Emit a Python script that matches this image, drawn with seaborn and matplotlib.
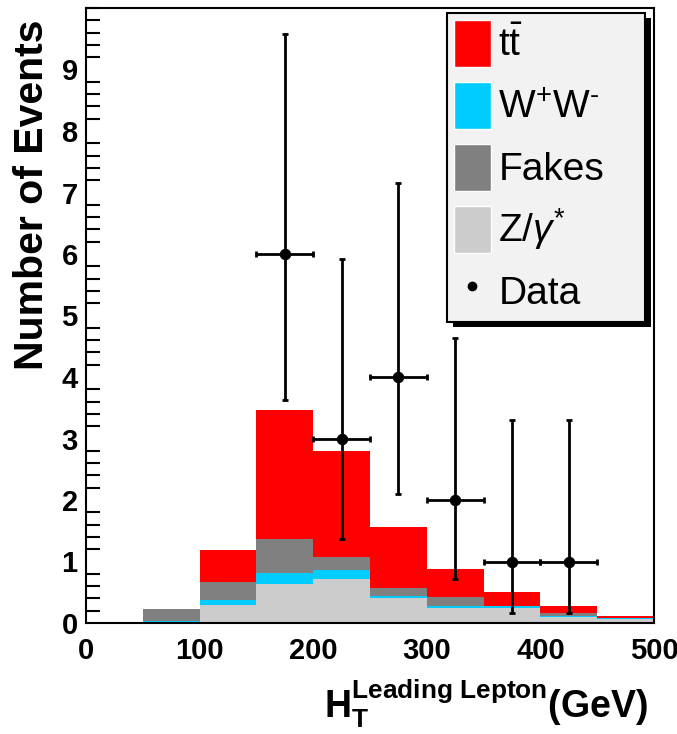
import numpy as np
import pandas as pd
import matplotlib
matplotlib.use("Agg")
import matplotlib.pyplot as plt
import seaborn as sns
from matplotlib.patches import Patch, Rectangle
from matplotlib.lines import Line2D
from matplotlib.transforms import IdentityTransform

# ---------------- data ----------------
bin_edges = [0, 50, 100, 150, 200, 250, 300, 350, 400, 450, 500]
bin_centers = [25, 75, 125, 175, 225, 275, 325, 375, 425, 475]
processes = ["ttbar", "WW", "Fakes", "Zgamma"]
ttbar = [0.0, 0.01, 0.52, 2.10, 1.72, 0.99, 0.45, 0.23, 0.11, 0.04]
ww = [0.0, 0.02, 0.09, 0.19, 0.14, 0.04, 0.03, 0.02, 0.02, 0.02]
fakes = [0.0, 0.18, 0.29, 0.55, 0.21, 0.13, 0.15, 0.01, 0.05, 0.0]
zgamma = [0.0, 0.02, 0.29, 0.63, 0.72, 0.40, 0.25, 0.25, 0.10, 0.06]

data_x = [175, 225, 275, 325, 375, 425]
data_y = [6, 3, 4, 2, 1, 1]
data_err_low = [2.38, 1.63, 1.91, 1.29, 0.83, 0.83]
data_err_high = [3.58, 2.92, 3.16, 2.64, 2.30, 2.30]
data_xerr = [25, 25, 25, 25, 25, 25]

legend_labels = [r"$\mathrm{t\bar{t}}$", r"W$^{+}$W$^{\text{-}}$", "Fakes",
                 r"Z/$\gamma^{*}$", "Data"]
colors = {"ttbar": "#ff0000", "WW": "#00ccff", "Fakes": "#808080", "Zgamma": "#cccccc"}
stack_order = ["ttbar", "Fakes", "WW", "Zgamma"]  # top -> bottom

# ---------------- style ----------------
sns.set_theme(style="white")
plt.rcParams["font.family"] = ["Liberation Sans", "DejaVu Sans"]
plt.rcParams["mathtext.fontset"] = "custom"
plt.rcParams["mathtext.rm"] = "Liberation Sans"
plt.rcParams["mathtext.it"] = "Liberation Sans:italic"
plt.rcParams["mathtext.bf"] = "Liberation Sans:bold"
for k in ["text.color", "axes.labelcolor", "xtick.color", "ytick.color", "axes.edgecolor"]:
    plt.rcParams[k] = "black"

rows = []
for name, vals in zip(processes, [ttbar, ww, fakes, zgamma]):
    for c, v in zip(bin_centers, vals):
        rows.append({"x": c, "w": v, "process": name})
df = pd.DataFrame(rows)

fig = plt.figure(figsize=(6.77, 7.34), dpi=100)
ax = fig.add_axes([86 / 677, 1 - 623 / 734, (654 - 86) / 677, (623 - 8) / 734])

sns.histplot(data=df, x="x", weights="w", hue="process", hue_order=stack_order,
             bins=bin_edges, multiple="stack", element="bars", palette=colors,
             alpha=1, linewidth=0, legend=False, ax=ax, shrink=1.0)

ax.errorbar(data_x, data_y, xerr=data_xerr, yerr=[data_err_low, data_err_high],
            fmt="none", ecolor="black", elinewidth=2, capsize=2.5, capthick=2, zorder=5)
sns.scatterplot(x=data_x, y=data_y, color="black", s=58, edgecolor="black",
                zorder=6, ax=ax, legend=False)

ax.set_xlim(0, 500)
ax.set_ylim(0, 10)
ax.set_xticks([0, 100, 200, 300, 400, 500])
ax.set_yticks(range(0, 10))
ax.set_yticks(np.arange(0, 10.01, 0.2), minor=True)
ax.tick_params(axis="both", which="major", direction="in", labelsize=21, width=1.5, color="black")
ax.tick_params(axis="y", which="major", length=18, pad=6)
ax.tick_params(axis="y", which="minor", direction="in", length=10, width=1.5, left=True)
ax.tick_params(axis="x", which="major", length=13, pad=10)
for lab in ax.get_xticklabels() + ax.get_yticklabels():
    lab.set_fontweight("bold")
for sp in ax.spines.values():
    sp.set_color("black")
    sp.set_linewidth(1.5)

ax.set_ylabel("Number of Events", fontsize=29.5, fontweight="bold", loc="top")
ax.yaxis.set_label_coords(-0.062, 0.981)
ax.set_xlabel(r"$\mathbf{H}_{\mathbf{T}}^{\mathbf{Leading\ Lepton}}$(GeV)",
              fontsize=27, fontweight="bold", loc="right")
ax.xaxis.set_label_coords(0.989, -0.088)

handles = [Patch(facecolor=colors["ttbar"]), Patch(facecolor=colors["WW"]),
           Patch(facecolor=colors["Fakes"]), Patch(facecolor=colors["Zgamma"]),
           Line2D([], [], marker="o", color="black", linestyle="none", markersize=6)]
leg_x0 = (447 - 86) / 568
leg_w = 198 / 568
leg_top = (623 - 13) / 615
leg = ax.legend(handles, legend_labels, loc="upper left",
                bbox_to_anchor=(leg_x0, 0.0, leg_w, leg_top), mode="expand",
                fontsize=28, frameon=True, fancybox=False, shadow=False,
                facecolor="#f2f2f2", edgecolor="black", framealpha=1,
                handlelength=0.95, handleheight=1.48, handletextpad=0.2,
                labelspacing=0.39, borderpad=0.17, borderaxespad=0)
leg.get_frame().set_linewidth(1.5)
leg.set_zorder(10)

# ROOT-like hard shadow behind the legend
fig.canvas.draw()
bb = leg.get_window_extent()
shadow = Rectangle((bb.x0 + 6, bb.y0 - 5), bb.width, bb.height, facecolor="black",
                   edgecolor="none", transform=IdentityTransform(), clip_on=False, zorder=9)
ax.add_patch(shadow)

fig.savefig("out.png", dpi=100)
